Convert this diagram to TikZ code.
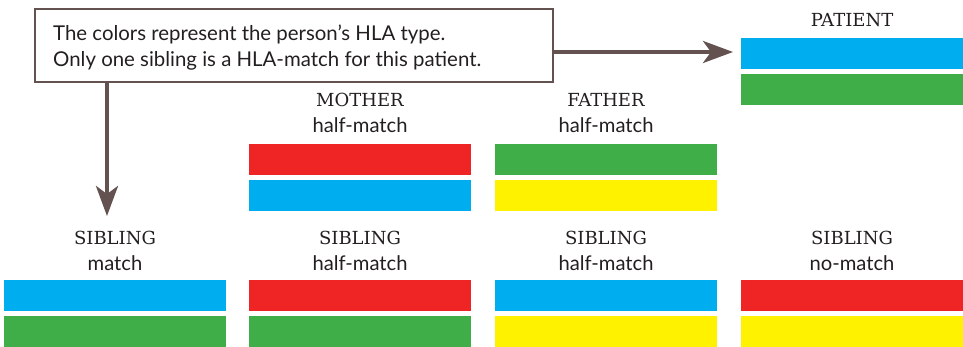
\documentclass[tikz,border=0pt]{standalone}
\usepackage{fontspec}
\setmainfont{DejaVu Serif}
\newfontfamily\boxfont{Lato}
\newfontfamily\labfont{Lato}
\usetikzlibrary{arrows.meta}
\definecolor{hblue}{HTML}{00AEEF}
\definecolor{hgreen}{HTML}{3FAE49}
\definecolor{hred}{HTML}{EE2524}
\definecolor{hyellow}{HTML}{FFF200}
\definecolor{hbrown}{HTML}{645250}
\definecolor{htext}{HTML}{231F20}
\tikzset{
  bar/.style={fill=#1, draw=none, minimum width=222pt, minimum height=31pt, inner sep=0pt, anchor=north west},
  title/.style={font=\fontsize{18}{20}\selectfont, text=htext, inner sep=0pt, anchor=base},
  sub/.style={font=\labfont\fontsize{20.2}{22}\selectfont, text=htext, inner sep=0pt, anchor=base},
  boxline/.style={font=\boxfont\fontsize{20.4}{26}\selectfont, text=htext, inner sep=0pt, anchor=base west},
  conn/.style={draw=hbrown, line width=4pt, -{Stealth[length=30pt, width=22pt, inset=8pt]}}
}
\begin{document}
\begin{tikzpicture}[x=1pt,y=-1pt]
\useasboundingbox (0,0) rectangle (963,347);
% info box
\node[draw=hbrown, line width=1.6pt, minimum width=518pt, minimum height=73pt, anchor=north west, inner sep=0pt] (info) at (34,8) {};
\node[boxline] (line1) at (53,41) {The colors represent the person’s HLA type.};
\node[boxline] (line2) at (53,67) {Only one sibling is a HLA-match for this patient.};
% patient
\node[title] (ptitle) at (852,27) {PATIENT};
\node[bar=hblue] (p1) at (741,38) {};
\node[bar=hgreen] (p2) at (741,74) {};
% mother
\node[title] (mtitle) at (360,107) {MOTHER};
\node[sub] (msub) at (360,133) {half-match};
\node[bar=hred] (m1) at (249,144) {};
\node[bar=hblue] (m2) at (249,180) {};
% father
\node[title] (ftitle) at (606,107) {FATHER};
\node[sub] (fsub) at (606,133) {half-match};
\node[bar=hgreen] (f1) at (495,144) {};
\node[bar=hyellow] (f2) at (495,180) {};
% siblings
\node[title] (s1t) at (115,244) {SIBLING};
\node[sub] (s1s) at (115,270) {match};
\node[bar=hblue] (s1a) at (4,280) {};
\node[bar=hgreen] (s1b) at (4,316) {};
\node[title] (s2t) at (360,244) {SIBLING};
\node[sub] (s2s) at (360,270) {half-match};
\node[bar=hred] (s2a) at (249,280) {};
\node[bar=hgreen] (s2b) at (249,316) {};
\node[title] (s3t) at (606,244) {SIBLING};
\node[sub] (s3s) at (606,270) {half-match};
\node[bar=hblue] (s3a) at (495,280) {};
\node[bar=hyellow] (s3b) at (495,316) {};
\node[title] (s4t) at (852,244) {SIBLING};
\node[sub] (s4s) at (852,270) {no-match};
\node[bar=hred] (s4a) at (741,280) {};
\node[bar=hyellow] (s4b) at (741,316) {};
% arrows
\coordinate (ptip) at (733,52);
\coordinate (stip) at (107,216);
\draw[conn] (info.east |- ptip) -- (ptip);
\draw[conn] (stip |- info.south) -- (stip);
\end{tikzpicture}
\end{document}
